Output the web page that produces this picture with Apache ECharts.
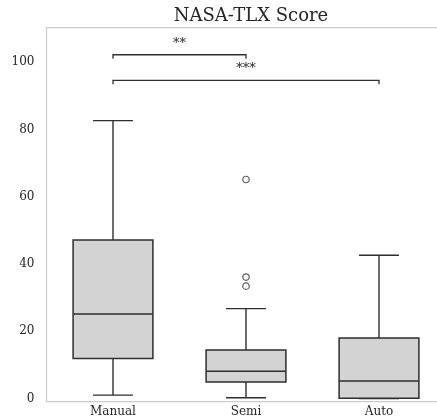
<!DOCTYPE html>
<html>
<head>
<meta charset="utf-8">
<script src="https://cdn.jsdelivr.net/npm/echarts@6/dist/echarts.min.js"></script>
<style>
  html, body { margin: 0; padding: 0; background: #ffffff; overflow: hidden; }
  #chart { width: 437px; height: 418px; }
</style>
</head>
<body>
<div id="chart"></div>
<script>
// Conditions compared in the study
const categories = ['Manual', 'Semi', 'Auto'];

// Five-number summaries per condition: [lower whisker, Q1, median, Q3, upper whisker]
const manualStats = [1.0, 11.9, 25.1, 47.1, 82.6];
const semiStats = [0.2, 4.9, 8.1, 14.4, 26.7];
const autoStats = [0.0, 0.1, 5.2, 18.0, 42.6];

// Outlying scores beyond the whiskers
const semiOutliers = [65.1, 36.1, 33.4];

// Y axis tick labels
const yTicks = [0, 20, 40, 60, 80, 100];

// Significance brackets: [from category, to category, height, label]
const brackets = [
  ['Manual', 'Semi', 102.2, '**'],
  ['Manual', 'Auto', 94.6, '***']
];

const boxStats = [manualStats, semiStats, autoStats];
const boxData = boxStats.map((s, i) => [i].concat(s));
const outlierData = semiOutliers.map(v => ['Semi', v]);
const bracketData = brackets.map(b => [categories.indexOf(b[0]), categories.indexOf(b[1]), b[2], b[3]]);

const EDGE = '#2e2e2e';
const TEXT = '#262626';
const FONT = '"DejaVu Serif", serif';

const chart = echarts.init(document.getElementById('chart'), null, { renderer: 'canvas' });

chart.setOption({
  animation: false,
  backgroundColor: '#ffffff',
  title: {
    text: 'NASA-TLX Score',
    left: 246,
    textAlign: 'center',
    top: 2,
    textStyle: { fontFamily: FONT, fontSize: 18, fontWeight: 'normal', color: TEXT }
  },
  grid: {
    left: 46.5, top: 27.5, width: 399, height: 374,
    outerBoundsMode: 'none',
    containLabel: false,
    show: true, borderColor: '#cccccc', borderWidth: 1.25, backgroundColor: 'transparent'
  },
  xAxis: {
    type: 'category',
    data: categories,
    axisLine: { show: false },
    axisTick: { show: false },
    splitLine: { show: false },
    axisLabel: { fontFamily: FONT, fontSize: 12, color: TEXT, margin: 4 }
  },
  yAxis: {
    type: 'value',
    min: -0.9,
    max: 110.3,
    axisLine: { show: false },
    axisTick: { show: false },
    splitLine: { show: false },
    axisLabel: {
      customValues: yTicks,
      fontFamily: FONT, fontSize: 12, color: TEXT, margin: 12
    }
  },
  series: [
    {
      type: 'custom',
      name: 'boxes',
      data: boxData,
      encode: { x: 0, y: [1, 2, 3, 4, 5] },
      renderItem: function (params, api) {
        const idx = api.value(0);
        const band = api.size([1, 0])[0];
        const half = band * 0.3;
        const capHalf = half / 2;
        const lo = api.coord([idx, api.value(1)]);
        const q1 = api.coord([idx, api.value(2)]);
        const med = api.coord([idx, api.value(3)]);
        const q3 = api.coord([idx, api.value(4)]);
        const hi = api.coord([idx, api.value(5)]);
        const x = lo[0];
        const stroke = { stroke: EDGE, lineWidth: 1.4, fill: null };
        return {
          type: 'group',
          children: [
            { type: 'line', shape: { x1: x, y1: q3[1], x2: x, y2: hi[1] }, style: stroke },
            { type: 'line', shape: { x1: x, y1: q1[1], x2: x, y2: lo[1] }, style: stroke },
            { type: 'line', shape: { x1: x - capHalf, y1: hi[1], x2: x + capHalf, y2: hi[1] }, style: stroke },
            { type: 'line', shape: { x1: x - capHalf, y1: lo[1], x2: x + capHalf, y2: lo[1] }, style: stroke },
            {
              type: 'rect',
              shape: { x: x - half, y: q3[1], width: half * 2, height: q1[1] - q3[1] },
              style: { fill: '#d3d3d3', stroke: EDGE, lineWidth: 1.5 }
            },
            { type: 'line', shape: { x1: x - half, y1: med[1], x2: x + half, y2: med[1] }, style: stroke }
          ]
        };
      },
      z: 2
    },
    {
      type: 'scatter',
      name: 'outliers',
      data: outlierData,
      symbol: 'circle',
      symbolSize: 6.5,
      itemStyle: { color: '#ffffff', borderColor: EDGE, borderWidth: 1.2 },
      z: 3
    },
    {
      type: 'custom',
      name: 'brackets',
      data: bracketData,
      encode: { x: [0, 1], y: 2 },
      renderItem: function (params, api) {
        const a = api.coord([api.value(0), api.value(2)]);
        const b = api.coord([api.value(1), api.value(2)]);
        const drop = 4;
        const label = bracketData[params.dataIndex][3];
        return {
          type: 'group',
          children: [
            {
              type: 'polyline',
              shape: { points: [[a[0], a[1] + drop], [a[0], a[1]], [b[0], a[1]], [b[0], a[1] + drop]] },
              style: { stroke: EDGE, lineWidth: 1.3, fill: null }
            },
            {
              type: 'text',
              style: {
                text: label, x: (a[0] + b[0]) / 2, y: a[1] - 5,
                align: 'center', verticalAlign: 'bottom',
                font: '13px ' + FONT, fill: TEXT
              }
            }
          ]
        };
      },
      z: 3
    }
  ]
});
</script>
</body>
</html>
